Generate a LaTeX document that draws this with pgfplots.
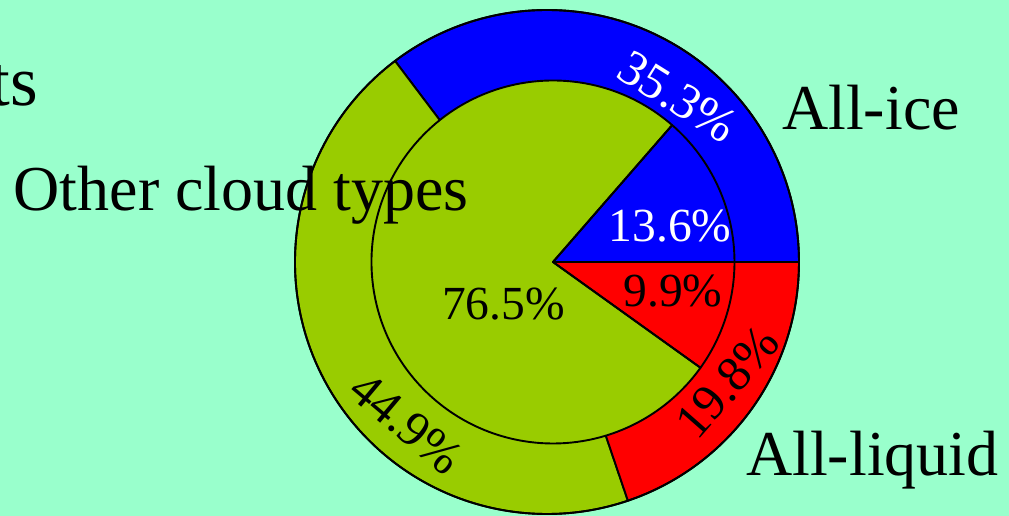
\documentclass[border=0pt]{standalone}
\usepackage{fontspec}
\setmainfont{Liberation Serif}
\usepackage{pgfplots}
\usepackage{pgfplotstable}
\pgfplotsset{compat=1.18}
\definecolor{bgmint}{HTML}{99FFCC}
\definecolor{iceblue}{HTML}{0000FF}
\definecolor{liqred}{HTML}{FF0000}
\definecolor{othgreen}{HTML}{99CC00}

\pgfplotstableread{
type outer inner
ice 35.3 13.6
other 44.9 76.5
liquid 19.8 9.9
}\piedata

\newcommand\catfont{\fontsize{64bp}{72bp}\selectfont}
\newcommand\pctfont{\fontsize{47.5bp}{53bp}\selectfont}
\newcommand\rpctfont{\fontsize{50bp}{56bp}\selectfont}

\begin{document}
\begin{tikzpicture}
\path[use as bounding box] (0,0) rectangle (1009bp,516bp);
\clip (0,0) rectangle (1009bp,516bp);
\fill[bgmint] (0,0) rectangle (1009bp,516bp);
\pgfplotstablegetelem{0}{outer}\of\piedata \pgfmathsetmacro\oice{\pgfplotsretval*3.6}
\pgfplotstablegetelem{1}{outer}\of\piedata \pgfmathsetmacro\oother{\oice+\pgfplotsretval*3.6}
\pgfplotstablegetelem{0}{inner}\of\piedata \pgfmathsetmacro\iice{\pgfplotsretval*3.6}
\pgfplotstablegetelem{1}{inner}\of\piedata \pgfmathsetmacro\iother{\iice+\pgfplotsretval*3.6}
\begin{axis}[at={(0,0)}, anchor=south west, x=1bp, y=1bp,
  xmin=0, xmax=1009, ymin=0, ymax=516, hide axis, clip=false]
% outer ring (full sectors, later covered by inner pie)
\filldraw[fill=iceblue, line width=1.9bp, line join=round] (axis cs:547,254) -- ++(0:252bp)
  arc[start angle=0, end angle=\oice, radius=252bp] -- cycle;
\filldraw[fill=othgreen, line width=1.9bp, line join=round] (axis cs:547,254) -- ++(\oice:252bp)
  arc[start angle=\oice, end angle=\oother, radius=252bp] -- cycle;
\filldraw[fill=liqred, line width=1.9bp, line join=round] (axis cs:547,254) -- ++(\oother:252bp)
  arc[start angle=\oother, end angle=360, radius=252bp] -- cycle;
% inner pie fills
\fill[iceblue] (axis cs:553,254) -- ++(0:181.5bp)
  arc[start angle=0, end angle=\iice, radius=181.5bp] -- cycle;
\fill[othgreen] (axis cs:553,254) -- ++(\iice:181.5bp)
  arc[start angle=\iice, end angle=\iother, radius=181.5bp] -- cycle;
\fill[liqred] (axis cs:553,254) -- ++(\iother:181.5bp)
  arc[start angle=\iother, end angle=360, radius=181.5bp] -- cycle;
% category labels
\node[inner sep=0pt, anchor=base east, font=\fontsize{71bp}{78bp}\selectfont] at (axis cs:38,410) {Cloud phase fractions of all points};
\node[inner sep=0pt, anchor=base west, font=\catfont] at (axis cs:782,386.7) {All-ice};
\node[inner sep=0pt, anchor=base west, font=\catfont] at (axis cs:746,41) {All-liquid};
\node[inner sep=0pt, anchor=base west, font=\catfont] at (axis cs:13.5,306) {Other cloud types};
% percentage labels
\node[inner sep=0pt, anchor=base, font=\pctfont, text=white] at (axis cs:670,274.3) {13.6\%};
\node[inner sep=0pt, anchor=base, font=\pctfont] at (axis cs:673,210) {9.9\%};
\node[inner sep=0pt, anchor=base, font=\pctfont] at (axis cs:503.5,197) {76.5\%};
\node[inner sep=0pt, anchor=center, font=\rpctfont, text=white, rotate=-32] at (axis cs:678,419) {35.3\%};
\node[inner sep=0pt, anchor=center, font=\rpctfont, rotate=-40] at (axis cs:406.7,92.3) {44.9\%};
\node[inner sep=0pt, anchor=center, font=\rpctfont, rotate=48.8] at (axis cs:727.5,133.5) {19.8\%};
% edges on top
\draw[line width=1.9bp] (axis cs:547,254) circle[radius=252bp];
\draw[line width=1.9bp, line join=round] (axis cs:553,254) -- ++(0:181.5bp)
  arc[start angle=0, end angle=\iice, radius=181.5bp] -- cycle;
\draw[line width=1.9bp, line join=round] (axis cs:553,254) -- ++(\iice:181.5bp)
  arc[start angle=\iice, end angle=\iother, radius=181.5bp] -- cycle;
\draw[line width=1.9bp, line join=round] (axis cs:553,254) -- ++(\iother:181.5bp)
  arc[start angle=\iother, end angle=360, radius=181.5bp] -- cycle;
\end{axis}
\end{tikzpicture}
\end{document}
